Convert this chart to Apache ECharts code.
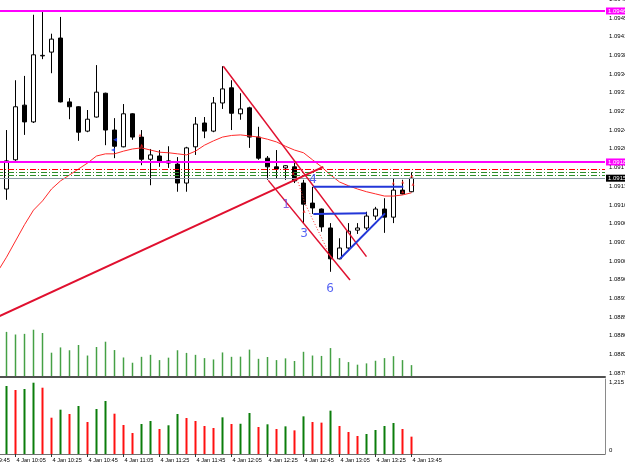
<!DOCTYPE html>
<html><head><meta charset="utf-8">
<script src="https://cdn.jsdelivr.net/npm/echarts@6/dist/echarts.min.js"></script>
<style>html,body{margin:0;padding:0;background:#fff;}#c{width:625px;height:465px;}</style>
</head><body><div id="c"></div>
<script>
// ---- data ----
const times = ['09:45','09:50','09:55','10:00','10:05','10:10','10:15','10:20','10:25','10:30','10:35','10:40','10:45','10:50','10:55',
 '11:00','11:05','11:10','11:15','11:20','11:25','11:30','11:35','11:40','11:45','11:50','11:55',
 '12:00','12:05','12:10','12:15','12:20','12:25','12:30','12:35','12:40','12:45','12:50','12:55',
 '13:00','13:05','13:10','13:15','13:20','13:25','13:30','13:35','13:40','13:45'];
const open = [null,null,1.09131,1.09133,1.09187,1.09288,1.09257,1.09379,1.09386,1.09412,1.09294,1.09285,1.09240,1.09266,1.09310,
 1.09242,1.09211,1.09272,1.09229,1.09188,1.09194,1.09185,1.09179,1.09144,1.09211,1.09255,1.09240,
 1.09292,1.09320,1.09272,1.09283,1.09229,1.09190,1.09174,1.09172,1.09174,1.09144,1.09107,1.09096,
 1.09061,1.09004,1.09024,1.09057,1.09061,1.09083,1.09096,1.09081,1.09131,1.09128];
const close = [null,null,1.09177,1.09185,1.09285,1.09257,1.09381,1.09380,1.09410,1.09294,1.09285,1.09238,1.09262,1.09312,1.09242,
 1.09212,1.09272,1.09229,1.09188,1.09196,1.09183,1.09181,1.09144,1.09209,1.09253,1.09240,1.09292,
 1.09318,1.09273,1.09281,1.09229,1.09190,1.09174,1.09170,1.09176,1.09148,1.09105,1.09098,1.09063,
 1.09004,1.09024,1.09055,1.09061,1.09083,1.09096,1.09081,1.09131,1.09124,1.09153];
const low = [null,null,1.09113,1.09113,1.09185,1.09233,1.09255,1.09373,1.09347,1.09293,1.09262,1.09222,1.09238,1.09265,1.09214,
 1.09190,1.09210,1.09224,1.09177,1.09140,1.09174,1.09172,1.09128,1.09128,1.09196,1.09227,1.09238,
 1.09281,1.09242,1.09261,1.09209,1.09187,1.09150,1.09153,1.09150,1.09144,1.09070,1.09087,1.09054,
 1.08980,1.09003,1.09020,1.09050,1.09057,1.09076,1.09052,1.09070,1.09123,1.09127];
const high = [null,null,1.09205,1.09242,1.09334,1.09342,1.09455,1.09460,1.09420,1.09451,1.09301,1.09286,1.09279,1.09362,1.09311,
 1.09264,1.09290,1.09273,1.09242,1.09207,1.09205,1.09212,1.09192,1.09211,1.09266,1.09266,1.09303,
 1.09360,1.09334,1.09310,1.09285,1.09248,1.09194,1.09205,1.09177,1.09183,1.09150,1.09137,1.09097,
 1.09070,1.09042,1.09070,1.09070,1.09091,1.09100,1.09116,1.09153,1.09150,1.09164];
const maValues = [null,1.08952,1.08980,1.09007,1.09037,1.09067,1.09094,1.09111,1.09133,1.09148,1.09159,1.09170,1.09181,1.09194,1.09198,
 1.09198,1.09203,1.09207,1.09209,1.09205,1.09201,1.09200,1.09198,1.09196,1.09203,1.09214,1.09222,
 1.09229,1.09232,1.09233,1.09231,1.09229,1.09225,1.09220,1.09212,1.09205,1.09200,1.09187,1.09174,
 1.09159,1.09146,1.09139,1.09133,1.09128,1.09124,1.09120,1.09120,1.09122,1.09126];
const volumes = [null,null,null,1102,1037,1053,1155,1074,588,718,648,778,518,729,859,
 653,470,340,486,535,405,465,648,583,535,454,421,
 594,486,490,664,437,481,405,448,383,610,518,508,
 702,454,356,292,324,389,454,502,405,281];
const priceTicks = ['1.08793','1.08828','1.08862','1.08897','1.08931','1.08966','1.09000','1.09035','1.09069','1.09104','1.09139',
 '1.09173','1.09208','1.09242','1.09277','1.09311','1.09346','1.09380','1.09415','1.09450','1.09484'];
const volMax = 1215;
const levelMagenta = [1.09462, 1.09183];
const levelRed = [1.09170];
const levelGreen = [1.09164, 1.09159];
const levelBid = [1.09153];
// drawings: [bar index, price]
const trendRising = [[0, 1.08881], [38.2, 1.09174]];
const channelUpper = [[27.09, 1.09360], [43.0, 1.09008]];
const channelLower = [[32.09, 1.09149], [41.17, 1.08965]];
const dottedPath = [[35.2, 1.09156], [36.2, 1.09105], [39.1, 1.09005]];
const blueTop = [[37.09, 1.09137], [47.09, 1.09137]];
const blueMid = [[37.09, 1.09087], [43.02, 1.09088]];
const blueDiag = [[40.06, 1.09004], [45.06, 1.09088]];
const waveLabels = [['1', 34.06, 1.09104], ['3', 36.06, 1.09050], ['4', 37.06, 1.09150], ['6', 38.94, 1.08948]];
const blueSignals = [[15.06, 1.09224], [14.83, 1.09205]];
const redSignals = [[17.83, 1.09233], [18.02, 1.09214], [34.86, 1.09162], [36.06, 1.09092], [45.98, 1.09144], [47.02, 1.09146], [47.02, 1.09128], [48.02, 1.09157], [48.17, 1.09142]];

// ---- layout ----
const SLOTS = 70;
const lastIdx = times.length - 1;
const cats = times.concat(Array.from({length: SLOTS - times.length}, (_, k) => 'pad' + k));
const priceMax = 1.094823, priceMin = 1.087856;
const L = -25, R = 20;
const FONT = 'Liberation Sans';
const FS = 6;

const candleData = times.map((t, i) => open[i] == null ? '-' : [open[i], close[i], low[i], high[i]]);
const lowerBars = volumes.map((v, i) => v == null ? '-' : {
  value: v,
  itemStyle: {color: (i > 0 && volumes[i - 1] != null && v < volumes[i - 1]) ? '#ff1010' : '#0b7d0b'}
});

function levelLine(v, style, label) {
  return {yAxis: v, lineStyle: style, label: label ? Object.assign({show: true, position: 'end', distance: 1,
    formatter: p => Number(p.value).toFixed(5), fontSize: FS, fontFamily: FONT, padding: [1, 2, 0, 2]}, label) : {show: false}};
}
const marks = []
  .concat(levelRed.map(v => levelLine(v, {color: '#ff0000', width: 1, type: [6, 2, 1, 2]})))
  .concat(levelGreen.map(v => levelLine(v, {color: '#2a8c2a', width: 1, type: [6, 2, 1, 2]})))
  .concat(levelBid.map(v => levelLine(v, {color: '#8d9ba8', width: 1, type: 'solid'}, {backgroundColor: '#000', color: '#fff'})))
  .concat(levelMagenta.map(v => levelLine(v, {color: '#ff00ff', width: 2, type: 'solid'}, {backgroundColor: '#ff00ff', color: '#fff'})));

function seg(data, color, width, type, z) {
  return {type: 'line', xAxisIndex: 1, yAxisIndex: 0, data: data, showSymbol: false, symbol: 'none', silent: true,
    lineStyle: {color: color, width: width, type: type || 'solid'}, z: z || 5, animation: false};
}
const G = (top, height) => ({left: L, right: R, top: top, height: height, outerBoundsMode: 'none', containLabel: false});

const option = {
  animation: false,
  backgroundColor: '#fff',
  textStyle: {fontFamily: FONT},
  grid: [G(0, 377), G(327.3, 49.2), G(379, 75), G(-0.68, 373.68), G(382, 68)],
  xAxis: [
    {type: 'category', gridIndex: 0, data: cats, boundaryGap: true, axisLabel: {show: false}, axisTick: {show: false},
      axisLine: {show: true, lineStyle: {color: '#505050', width: 2}}, splitLine: {show: false}, z: 20},
    {type: 'value', gridIndex: 0, min: -0.5, max: SLOTS - 0.5, show: false},
    {type: 'category', gridIndex: 1, data: cats, boundaryGap: true, show: false},
    {type: 'category', gridIndex: 2, data: cats, boundaryGap: true,
      axisLine: {show: true, lineStyle: {color: '#707070', width: 1}},
      axisTick: {show: true, alignWithLabel: true, length: 3, lineStyle: {color: '#333'},
        interval: (idx) => idx % 4 === 0 && idx <= lastIdx},
      axisLabel: {show: true, interval: (idx) => idx % 4 === 0 && idx <= lastIdx, align: 'left', margin: 3,
        fontSize: 5.6, fontFamily: FONT, color: '#000', padding: [0, 0, 0, 1],
        formatter: (v, idx) => idx <= lastIdx ? '4 Jan ' + v : ''},
      splitLine: {show: false}},
    {type: 'value', gridIndex: 3, min: 0, max: 1, show: false},
    {type: 'value', gridIndex: 4, min: 0, max: 1, show: false}
  ],
  yAxis: [
    {type: 'value', gridIndex: 0, min: priceMin, max: priceMax, position: 'right',
      axisLine: {show: true, lineStyle: {color: '#8a8a8a', width: 1}}, axisTick: {show: false}, axisLabel: {show: false}, splitLine: {show: false}},
    {type: 'value', gridIndex: 1, min: 0, max: volMax, show: false},
    {type: 'value', gridIndex: 2, min: 0, max: volMax, position: 'right',
      axisLine: {show: true, lineStyle: {color: '#8a8a8a', width: 1}}, axisTick: {show: false}, axisLabel: {show: false}, splitLine: {show: false}},
    {type: 'category', gridIndex: 3, data: priceTicks, boundaryGap: false, position: 'right',
      axisLine: {show: false}, axisTick: {show: true, length: 3, lineStyle: {color: '#333'}},
      axisLabel: {show: true, margin: 4, fontSize: FS, fontFamily: FONT, color: '#000', interval: 0}, splitLine: {show: false}},
    {type: 'value', gridIndex: 4, min: 0, max: volMax, interval: volMax, position: 'right',
      axisLine: {show: false}, axisTick: {show: true, length: 3, lineStyle: {color: '#333'}},
      axisLabel: {show: true, margin: 4, fontSize: FS, fontFamily: FONT, color: '#000'}, splitLine: {show: false}}
  ],
  series: [
    {type: 'bar', xAxisIndex: 2, yAxisIndex: 1, data: volumes.map(v => v == null ? '-' : v), barWidth: 1.5,
      itemStyle: {color: '#45a045'}, silent: true, z: 1},
    {type: 'line', xAxisIndex: 0, yAxisIndex: 0, data: [], silent: true, z: 2,
      markLine: {symbol: ['none', 'none'], precision: 5, silent: true, animation: false, data: marks}},
    {type: 'candlestick', xAxisIndex: 0, yAxisIndex: 0, data: candleData, barWidth: 5, z: 3,
      itemStyle: {color: '#ffffff', color0: '#000000', borderColor: '#000000', borderColor0: '#000000', borderWidth: 1}},
    {type: 'line', xAxisIndex: 0, yAxisIndex: 0, data: maValues.map(v => v == null ? '-' : v), showSymbol: false, symbol: 'none',
      lineStyle: {color: '#ff2a2a', width: 1}, z: 4, silent: true},
    seg(trendRising, '#e0102f', 2),
    seg(channelUpper, '#e0102f', 1.5),
    seg(channelLower, '#e0102f', 1.5),
    seg(dottedPath, '#ff3030', 1, [1, 2]),
    seg(blueTop, '#2236d8', 2, 'solid', 6),
    seg(blueMid, '#2236d8', 2, 'solid', 6),
    seg(blueDiag, '#2236d8', 2, 'solid', 6),
    {type: 'scatter', xAxisIndex: 1, yAxisIndex: 0, symbol: 'triangle', symbolSize: 4, symbolRotate: 90,
      data: blueSignals, itemStyle: {color: '#2040ff'}, z: 7, silent: true},
    {type: 'scatter', xAxisIndex: 1, yAxisIndex: 0, symbol: 'triangle', symbolSize: 3,
      data: redSignals, itemStyle: {color: '#ff2020'}, z: 7, silent: true},
    {type: 'scatter', xAxisIndex: 1, yAxisIndex: 0, symbolSize: 0, z: 8, silent: true,
      data: waveLabels.map(w => ({name: w[0], value: [w[1], w[2]],
        label: {color: w[0] === '1' ? '#6a3fe0' : '#2b3cf0'}})),
      label: {show: true, position: 'inside', formatter: '{b}', fontSize: 12, fontFamily: 'DejaVu Sans'}},
    {type: 'bar', xAxisIndex: 3, yAxisIndex: 2, data: lowerBars, barWidth: 2, silent: true}
  ]
};
const chart = echarts.init(document.getElementById('c'), null, {renderer: 'canvas'});
chart.setOption(option);
</script></body></html>
